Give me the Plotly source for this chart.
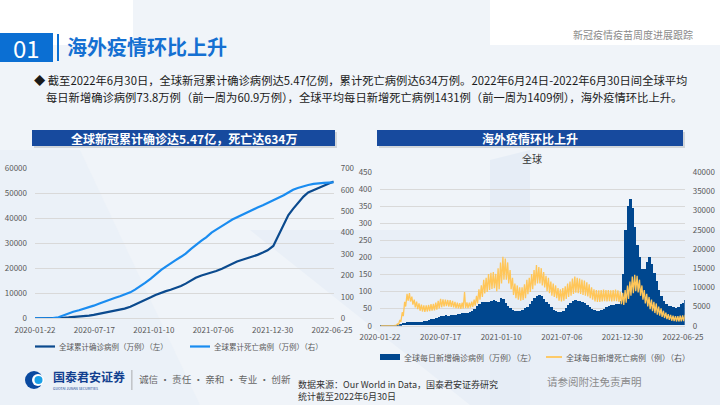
import plotly.graph_objects as go
import pandas as pd

FONT = "Noto Sans CJK SC, Microsoft YaHei, sans-serif"
W, H = 720, 405

# ---------------- Left chart data: cumulative (万例) ----------------
cum_dates = ["2020-01-22", "2020-02-01", "2020-02-15", "2020-03-01", "2020-03-15", "2020-04-01",
             "2020-04-15", "2020-05-01", "2020-05-15", "2020-06-01", "2020-06-15", "2020-07-01",
             "2020-07-15", "2020-08-01", "2020-08-15", "2020-09-01", "2020-09-15", "2020-10-01",
             "2020-10-15", "2020-11-01", "2020-11-15", "2020-12-01", "2020-12-15", "2021-01-01",
             "2021-01-15", "2021-02-01", "2021-02-15", "2021-03-01", "2021-03-15", "2021-04-01",
             "2021-04-15", "2021-05-01", "2021-05-15", "2021-06-01", "2021-06-15", "2021-07-01",
             "2021-07-15", "2021-08-01", "2021-08-15", "2021-09-01", "2021-09-15", "2021-10-01",
             "2021-10-15", "2021-11-01", "2021-11-15", "2021-12-01", "2021-12-15", "2022-01-01",
             "2022-01-15", "2022-02-01", "2022-02-15", "2022-03-01", "2022-03-15", "2022-04-01",
             "2022-04-15", "2022-05-01", "2022-05-15", "2022-06-01", "2022-06-15", "2022-06-30"]
cum_cases = [0.06, 1.2, 6.9, 8.8, 16.9, 93, 200, 334, 449, 632, 806, 1058, 1343, 1771, 2138, 2564,
             2948, 3389, 3870, 4634, 5454, 6336, 7258, 8402, 9353, 10318, 10872, 11426, 12030,
             12911, 13874, 15164, 16216, 17136, 17659, 18262, 18931, 19829, 20760, 21840, 22691,
             23398, 23930, 24660, 25378, 26289, 27178, 28950, 32940, 37780, 41300, 43770, 46030,
             48690, 50330, 51310, 52160, 53160, 53850, 54700]
cum_deaths = [0.0, 0.03, 0.17, 0.3, 0.65, 4.7, 13.6, 23.5, 30.5, 37.5, 43.7, 51.5, 59, 69, 78,
              87, 95, 103, 111, 121, 134, 149, 165, 185, 204, 226, 241, 257, 270, 287, 302, 324,
              343, 362, 378, 400, 414, 429, 444, 461, 472, 485, 495, 507, 517, 528, 538, 551, 561,
              574, 587, 600, 608, 617, 622, 627, 630, 632, 633, 634]

# ---------------- Right chart data: weekly (week starting 2020-01-22) ----------------
week_start = "2020-01-22"
daily_cases = [0.1, 0.3, 0.4, 0.3, 0.2, 0.3, 0.6, 1.5, 3.5, 6, 8, 9, 9, 9, 9.5, 10, 10, 11, 12.5,
               14, 16, 18, 20, 22, 24.5, 27, 29, 29.5, 29, 29.5, 30, 31, 32.5, 34, 35, 36, 37, 39,
               42, 49, 57, 63, 68, 70, 68, 70, 72, 74, 72, 70, 80, 76, 66, 58, 51, 44, 41, 42, 43,
               46, 50, 55, 62, 72, 80, 87, 90, 85, 78, 70, 62, 54, 46, 41, 38, 38, 43, 50, 59, 66,
               72, 74, 73, 71, 69, 65, 60, 54, 49, 46, 43, 42, 44, 48, 53, 57, 60, 60, 62, 63, 72,
               150, 280, 350, 370, 345, 290, 235, 200, 165, 165, 185, 200, 180, 155, 130, 105, 85,
               72, 64, 58, 56, 55, 52, 55, 62, 66, 75]
deaths_hi = [30, 40, 100, 120, 60, 70, 90, 500, 1500, 3500, 6200, 8300, 8500, 7600, 6800, 6300,
             5800, 5500, 5300, 5300, 5400, 5600, 5700, 6000, 6500, 7000, 6900, 6800, 6700, 6700,
             6500, 6200, 6000, 5900, 6000, 8800, 6100, 6000, 6300, 6800, 7800, 9500, 10500, 12000,
             12500, 13500, 13800, 14000, 13500, 15000, 16500, 18000, 17500, 16500, 14500, 12500,
             11000, 10500, 10000, 10000, 10800, 12000, 12500, 13500, 14500, 15800, 15300, 15000,
             14000, 13000, 12500, 11500, 11000, 10500, 9800, 9500, 9800, 10300, 11000, 11500,
             12300, 12800, 12500, 12300, 12000, 11800, 11300, 10800, 10000, 9500, 9300, 9200,
             9300, 9400, 9300, 9300, 9200, 9300, 9400, 9200, 8800, 8600, 9300, 10500, 11500, 12800,
             13300, 13000, 12000, 10500, 9300, 8300, 7500, 6800, 6200, 5800, 5000, 4500, 3900,
             3400, 3000, 2800, 2600, 2500, 2500, 2600, 2700, 2800]
deaths_lo = [20, 40, 70, 80, 10, 40, 60, 300, 1000, 2500, 5000, 6500, 6300, 5500, 4800, 4300,
             3900, 3700, 3600, 3700, 3800, 3900, 4000, 4200, 4500, 4800, 5000, 5100, 5000, 4900,
             4800, 4600, 4500, 4400, 4500, 4600, 4600, 4700, 4900, 5200, 5800, 6800, 7500, 8400,
             8800, 9300, 9600, 9800, 9000, 9500, 11000, 12000, 12000, 11000, 9500, 8000, 7200,
             6800, 6500, 6700, 7200, 8200, 8800, 9500, 10500, 11000, 11000, 10500, 10000, 9000,
             8500, 7800, 7500, 7200, 6500, 6300, 6500, 7000, 7500, 7800, 8300, 8600, 8500, 8300,
             8000, 7800, 7600, 7200, 6800, 6300, 6200, 6200, 6300, 6400, 6300, 6400, 6300, 6400,
             6400, 6200, 5600, 5400, 6000, 7000, 7800, 8500, 9000, 8700, 7800, 6800, 5800, 5000,
             4300, 3800, 3300, 2900, 2600, 2300, 2000, 1700, 1500, 1300, 1200, 1100, 1100, 1100,
             1200, 1200]

x_ticks = ["2020-01-22", "2020-07-17", "2021-01-10", "2021-07-06", "2021-12-30", "2022-06-25"]
left_y1_ticks = [0, 10000, 20000, 30000, 40000, 50000, 60000]
left_y2_ticks = [0, 100, 200, 300, 400, 500, 600, 700]
right_y1_ticks = [0, 50, 100, 150, 200, 250, 300, 350, 400, 450]
right_y2_ticks = [0, 5000, 10000, 15000, 20000, 25000, 30000, 35000, 40000]

# ---------------- colours ----------------
C_DARK = "#0b4a8e"
C_LIGHT = "#1a8cf0"
C_BAR = "#00478f"
C_YEL = "#ffc659"
C_GRID = "#d9d9d9"
C_TICK = "#595959"


def X(px):
    return px / W


def Y(py):
    return 1 - py / H


fig = go.Figure()

# Left chart traces
fig.add_trace(go.Scatter(x=cum_dates, y=cum_cases, mode="lines", line=dict(color=C_DARK, width=2.2),
                         xaxis="x", yaxis="y", showlegend=False, hoverinfo="skip"))
fig.add_trace(go.Scatter(x=cum_dates, y=cum_deaths, mode="lines", line=dict(color=C_LIGHT, width=2.2),
                         xaxis="x", yaxis="y2", showlegend=False, hoverinfo="skip"))

# Right chart traces
wk = pd.date_range(week_start, periods=len(daily_cases), freq="7D")
fig.add_trace(go.Bar(x=wk + pd.Timedelta(hours=84), y=daily_cases, width=7 * 24 * 3600 * 1000,
                     marker=dict(color=C_BAR, line=dict(width=0)), xaxis="x2", yaxis="y3",
                     showlegend=False, hoverinfo="skip"))
zx, zy = [], []
for d, hi, lo in zip(wk, deaths_hi, deaths_lo):
    zx.append(d + pd.Timedelta(days=2))
    zy.append(hi)
    zx.append(d + pd.Timedelta(days=5))
    zy.append(lo)
fig.add_trace(go.Scatter(x=zx, y=zy, mode="lines", line=dict(color=C_YEL, width=1.3),
                         xaxis="x2", yaxis="y4", showlegend=False, hoverinfo="skip"))

tick_font = dict(family=FONT, size=8, color=C_TICK)

# geometry (pixels)
L_x0, L_x1, L_top, L_bot = 35, 333.7, 168.3, 318.3
R_x0, R_x1, R_top, R_bot = 380, 684.7, 172.3, 325.7

common_x = dict(type="date", tickvals=x_ticks, ticktext=x_ticks, tickfont=tick_font,
                showgrid=False, showline=True, linecolor=C_GRID, linewidth=1, ticks="",
                ticklabelstandoff=4, zeroline=False, fixedrange=True, automargin=False)
common_y = dict(tickfont=tick_font, zeroline=False, automargin=False, ticks="")

fig.update_layout(
    width=W, height=H, margin=dict(l=0, r=0, t=0, b=0, autoexpand=False),
    paper_bgcolor="#f0f4f9", plot_bgcolor="rgba(0,0,0,0)",
    font=dict(family=FONT),
    showlegend=False,
    bargap=0,
    xaxis=dict(domain=[X(L_x0), X(L_x1)], anchor="y", range=["2020-01-22", "2022-06-30"], **common_x),
    yaxis=dict(domain=[Y(L_bot), Y(L_top)], anchor="x", range=[0, 60000], tickvals=left_y1_ticks,
               showgrid=True, gridcolor=C_GRID, gridwidth=1, ticklabelstandoff=7, tickformat="d",
               **common_y),
    yaxis2=dict(domain=[Y(L_bot), Y(L_top)], anchor="x", overlaying="y", side="right",
                range=[0, 700], tickvals=left_y2_ticks, showgrid=False, ticklabelstandoff=6,
                **common_y),
    xaxis2=dict(domain=[X(R_x0), X(R_x1)], anchor="y3", range=["2020-01-22", "2022-06-30"], **common_x),
    yaxis3=dict(domain=[Y(R_bot), Y(R_top)], anchor="x2", range=[0, 450], tickvals=right_y1_ticks,
                showgrid=True, gridcolor=C_GRID, gridwidth=1, ticklabelstandoff=7, **common_y),
    yaxis4=dict(domain=[Y(R_bot), Y(R_top)], anchor="x2", overlaying="y3", side="right",
                range=[0, 40000], tickvals=right_y2_ticks, showgrid=False, ticklabelstandoff=7,
                tickformat="d", **common_y),
)

shapes = []
ann = []


def rect(x0, y0, x1, y1, color, layer="below"):
    shapes.append(dict(type="rect", xref="paper", yref="paper", x0=X(x0), x1=X(x1), y0=Y(y1), y1=Y(y0),
                       fillcolor=color, line=dict(width=0), layer=layer))


def hline(x0, x1, y, color, width):
    shapes.append(dict(type="line", xref="paper", yref="paper", x0=X(x0), x1=X(x1), y0=Y(y), y1=Y(y),
                       line=dict(color=color, width=width), layer="above"))


def text(x, y, s, size, color, xanchor="left", bold=False, family=FONT):
    if bold:
        s = "<b>" + s + "</b>"
    ann.append(dict(x=X(x), y=Y(y), xref="paper", yref="paper", text=s, showarrow=False,
                    xanchor=xanchor, yanchor="middle", borderpad=0,
                    font=dict(family=family, size=size, color=color)))


def path(points, color):
    p = "M " + " L ".join(f"{X(a)},{Y(b)}" for a, b in points) + " Z"
    shapes.append(dict(type="path", xref="paper", yref="paper", path=p, fillcolor=color,
                       line=dict(width=0), layer="below"))


# background decoration
rect(0, 0, 133, 45, "#ffffff")
rect(490, 0, 720, 45, "#ffffff")
path([(250, 230), (720, 230), (720, 405), (470, 405)], "#e9eff7")
path([(0, 150), (80, 150), (200, 405), (0, 405)], "#ebf1f8")
path([(490, 160), (530, 150), (530, 405), (490, 405)], "#e6edf6")

# header
rect(0, 33, 53, 62, "#0b6fd3", layer="above")
text(26.5, 48, "01", 24, "#ffffff", xanchor="center")
rect(57, 34, 59, 61, "#0b6fd3", layer="above")
text(66, 47, "海外疫情环比上升", 20, "#1570d2", bold=True)
text(694, 35, "新冠疫情疫苗周度进展跟踪", 10, "#8a8a8a", xanchor="right")

# bullet text
text(33, 80, "◆ 截至2022年6月30日，全球新冠累计确诊病例达5.47亿例，累计死亡病例达634万例。2022年6月24日-2022年6月30日间全球平均",
     11.3, "#1a1a1a")
text(45, 97, "每日新增确诊病例73.8万例（前一周为60.9万例），全球平均每日新增死亡病例1431例（前一周为1409例），海外疫情环比上升。",
     11.3, "#1a1a1a")

# chart title bars
rect(34, 132, 337, 148, "rgba(0,0,0,0.12)")
rect(32, 130, 335, 146, "#174a9e")
text(183.5, 138, "全球新冠累计确诊达5.47亿，死亡达634万", 12, "#ffffff", xanchor="center", bold=True)
rect(379, 132, 685, 148, "rgba(0,0,0,0.12)")
rect(377, 130, 683, 146, "#174a9e")
text(530, 138, "海外疫情环比上升", 12, "#ffffff", xanchor="center", bold=True)
text(532, 158, "全球", 10, "#333333", xanchor="center")

# legends
hline(35, 55, 346.5, C_DARK, 2.2)
text(58, 346.5, "全球累计确诊病例（万例）（左）", 7.5, C_TICK)
hline(190, 210, 346.5, C_LIGHT, 2.2)
text(213, 346.5, "全球累计死亡病例（万例）（右）", 7.5, C_TICK)
rect(380, 354, 400, 360, C_BAR, layer="above")
text(403, 357, "全球每日新增确诊病例（万例）（左）", 8, C_TICK)
hline(546, 562, 357, C_YEL, 1.8)
text(565, 357, "全球每日新增死亡病例（例）（右）", 8, C_TICK)

# footer
shapes.append(dict(type="circle", xref="paper", yref="paper", x0=X(25), x1=X(43), y0=Y(389), y1=Y(371),
                   fillcolor="#0a4aa0", line=dict(width=0), layer="above"))
shapes.append(dict(type="circle", xref="paper", yref="paper", x0=X(32), x1=X(44), y0=Y(386), y1=Y(374),
                   fillcolor="#ffffff", line=dict(width=0), layer="above"))
shapes.append(dict(type="circle", xref="paper", yref="paper", x0=X(34.5), x1=X(42.5), y0=Y(384), y1=Y(376),
                   fillcolor="#1aa0e6", line=dict(width=0), layer="above"))
text(52, 376, "国泰君安证券", 12, "#123f8f", bold=True)
text(52, 388, "GUOTAI JUNAN SECURITIES", 3.5, "#123f8f")
rect(131.5, 370, 132.3, 390, "#9a9a9a", layer="above")
text(138, 379, "诚信 · 责任 · 亲和 · 专业 · 创新", 9.6, "#666666")
text(297, 384, "数据来源：Our World in Data，国泰君安证券研究", 9, "#333333")
text(297, 396, "统计截至2022年6月30日", 9, "#333333")
text(546, 381, "请参阅附注免责声明", 10.5, "#8a8a8a")

fig.update_layout(shapes=shapes, annotations=ann)
fig.write_html("out.html")
